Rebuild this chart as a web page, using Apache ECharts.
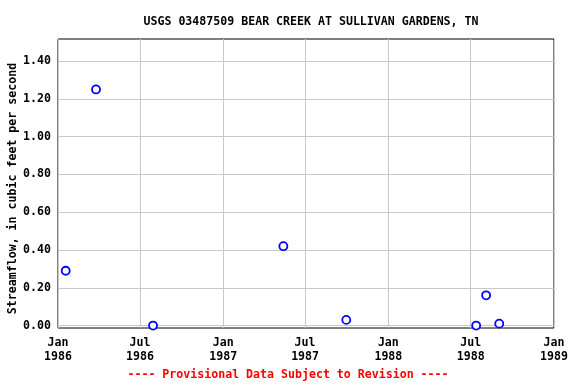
<!DOCTYPE html>
<html>
<head>
<meta charset="utf-8">
<script src="https://cdn.jsdelivr.net/npm/echarts@6/dist/echarts.min.js"></script>
<style>
  html, body { margin: 0; padding: 0; background: #fff; }
  #main { width: 576px; height: 384px; }
</style>
</head>
<body>
<div id="main"></div>
<script>
// sample dates and streamflow (cfs)
var sampleDates = ['1986-01-18', '1986-03-26', '1986-07-30', '1987-05-14', '1987-09-30', '1988-07-13', '1988-08-04', '1988-09-02'];
var flowValues = [0.29, 1.25, 0.00, 0.42, 0.03, 0.00, 0.16, 0.01];
// x tick labels (Jan / Jul)
var tickDates = ['1986-01-01', '1986-07-01', '1987-01-01', '1987-07-01', '1988-01-01', '1988-07-01', '1989-01-01'];
var tickLabels = ['Jan\n1986', 'Jul\n1986', 'Jan\n1987', 'Jul\n1987', 'Jan\n1988', 'Jul\n1988', 'Jan\n1989'];
var yTicks = [0, 0.2, 0.4, 0.6, 0.8, 1.0, 1.2, 1.4];

// days since 1986-01-01, so the x axis can be a plain value axis
var DAY = 86400000;
var origin = Date.UTC(1986, 0, 1);
function dayNum(s) {
  var p = s.split('-');
  return Math.round((Date.UTC(+p[0], +p[1] - 1, +p[2]) - origin) / DAY);
}

var tickDays = tickDates.map(dayNum);
var points = sampleDates.map(function (d, i) { return [dayNum(d), flowValues[i]]; });

var font = 'DejaVu Sans Mono';
var chart = echarts.init(document.getElementById('main'));
var option = {
  animation: false,
  title: {
    text: 'USGS 03487509 BEAR CREEK AT SULLIVAN GARDENS, TN',
    left: 306,
    textAlign: 'center',
    top: 11,
    textStyle: { fontFamily: font, fontSize: 11.6, fontWeight: 'bold', color: '#000' }
  },
  graphic: [{
    type: 'text',
    left: 'center',
    top: 369,
    x: 17,
    style: {
      text: '---- Provisional Data Subject to Revision ----',
      fontFamily: font, fontSize: 11.6, fontWeight: 'bold', fill: '#ff0000'
    }
  }],
  grid: {
    left: 58, right: 22, top: 39, bottom: 56,
    outerBoundsMode: 'none',
    show: true, borderColor: '#000', borderWidth: 1, backgroundColor: 'transparent'
  },
  xAxis: {
    type: 'value',
    min: tickDays[0],
    max: tickDays[tickDays.length - 1],
    axisLine: { show: false },
    axisTick: { show: false, customValues: tickDays },
    splitLine: { show: true, lineStyle: { color: '#c8c8c8', width: 1 } },
    axisLabel: {
      customValues: tickDays,
      margin: 8,
      fontFamily: font, fontSize: 11.6, fontWeight: 'bold', color: '#000', lineHeight: 14,
      formatter: function (v) {
        var i = tickDays.indexOf(v);
        return i >= 0 ? tickLabels[i] : '';
      }
    }
  },
  yAxis: {
    type: 'value',
    min: -0.013,
    max: 1.517,
    name: 'Streamflow, in cubic feet per second',
    nameLocation: 'middle',
    nameGap: 39,
    nameMoveOverlap: false,
    nameTextStyle: { fontFamily: font, fontSize: 11.6, fontWeight: 'bold', color: '#000', padding: [0, 10, 0, 0] },
    axisLine: { show: false },
    axisTick: { show: false, customValues: yTicks },
    splitLine: { show: true, lineStyle: { color: '#c8c8c8', width: 1 } },
    axisLabel: {
      customValues: yTicks,
      margin: 7,
      fontFamily: font, fontSize: 11.6, fontWeight: 'bold', color: '#000',
      formatter: function (v) { return v.toFixed(2); }
    }
  },
  series: [{
    type: 'scatter',
    data: points,
    symbol: 'circle',
    symbolSize: 8,
    itemStyle: { color: '#fff', borderColor: '#0000ff', borderWidth: 1.8, opacity: 1 }
  }]
};
chart.setOption(option);
</script>
</body>
</html>
